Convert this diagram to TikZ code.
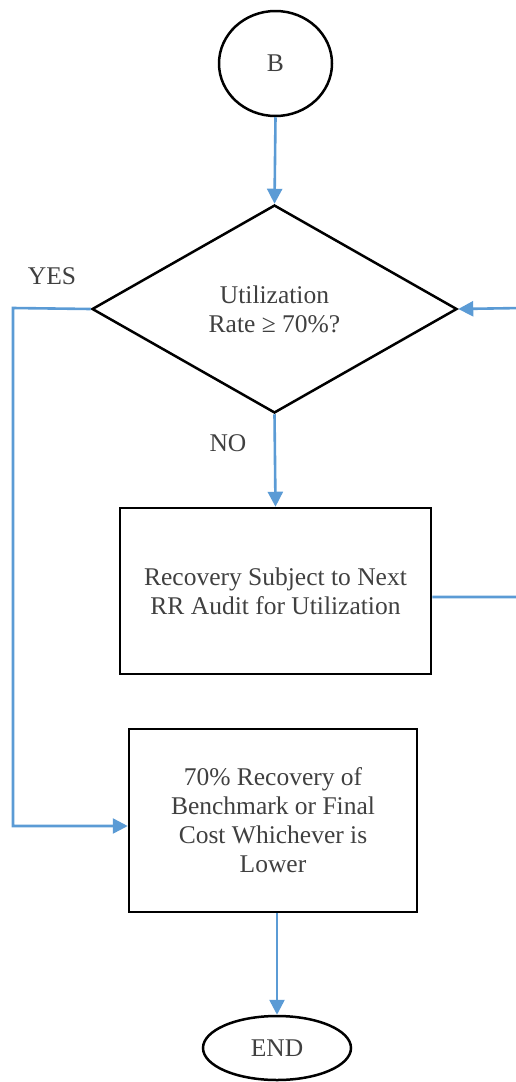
\documentclass[tikz,border=0pt]{standalone}
\usepackage{fontspec}
\setmainfont{Liberation Serif}
\usetikzlibrary{shapes.geometric,arrows.meta}
\definecolor{flowblue}{HTML}{5B9BD5}
\definecolor{txtgray}{HTML}{404040}
\tikzset{
  shapeline/.style={draw=black, line width=2.5pt, text=txtgray, font=\fontsize{25.5}{29}\selectfont, align=center, inner sep=0pt},
  ovalnode/.style={shapeline, ellipse},
  boxnode/.style={shapeline, rectangle},
  decnode/.style={shapeline, diamond},
  conn/.style={draw=flowblue, line width=2.6pt},
  arr/.style={conn, -{Triangle[length=15pt,width=15pt]}},
  lbl/.style={text=txtgray, font=\fontsize{25.5}{29}\selectfont, inner sep=0pt}
}
\begin{document}
\begin{tikzpicture}[x=1pt,y=-1pt]
\useasboundingbox (0,0) rectangle (515,1082);
\node[ovalnode, minimum width=113pt, minimum height=105pt] (b) at (275.5,63.5) {B};
\node[decnode, minimum width=365pt, minimum height=208pt] (dec) at (274.5,309) {Utilization\\Rate ≥ 70\%?};
\node[boxnode, minimum width=311pt, minimum height=166pt] (rec) at (275.5,591) {Recovery Subject to Next\\RR Audit for Utilization};
\node[boxnode, minimum width=288pt, minimum height=183pt] (pay) at (273,820.5) {70\% Recovery of\\Benchmark or Final\\Cost Whichever is\\Lower};
\node[ovalnode, minimum width=148pt, minimum height=64pt] (end) at (277,1048) {END};
\node[lbl] (yes) at (52,276) {YES};
\node[lbl] (no) at (228,443) {NO};
\coordinate (yesc) at (13,308);
\coordinate (loopc) at (522,308);
\draw[arr] (b.south) -- (dec.north);
\draw[arr] (dec.south) -- (rec.north);
\draw[arr] (dec.west) -- (yesc) |- ([yshift=-5.5pt]pay.west);
\draw[arr] ([yshift=-6pt]rec.east) -| (loopc) -- (dec.east);
\draw[arr] (pay.south -| end.north) -- (end.north);
\end{tikzpicture}
\end{document}
